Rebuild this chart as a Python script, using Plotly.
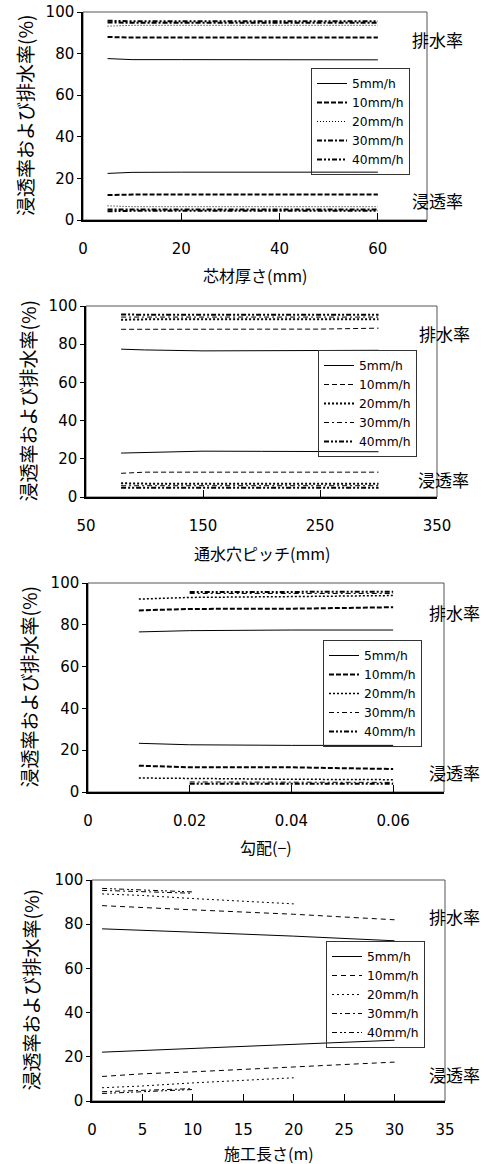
import plotly.graph_objects as go

W, H = 486, 1164

series_names = ["5mm/h", "10mm/h", "20mm/h", "30mm/h", "40mm/h"]

# Panel 1: 芯材厚さ(mm)
p1_x = [5, 10, 20, 40, 60]
p1_drain = {
    "5mm/h": [77.6, 77.1, 77.1, 77.0, 77.0],
    "10mm/h": [88.0, 87.7, 87.7, 87.7, 87.7],
    "20mm/h": [93.2, 93.6, 93.6, 93.6, 93.6],
    "30mm/h": [95.0, 94.8, 94.8, 94.8, 94.8],
    "40mm/h": [95.8, 95.5, 95.5, 95.5, 95.5],
}
p1_infil = {
    "5mm/h": [22.4, 22.9, 23.0, 23.0, 23.0],
    "10mm/h": [12.0, 12.2, 12.2, 12.2, 12.2],
    "20mm/h": [6.8, 6.4, 6.4, 6.4, 6.4],
    "30mm/h": [5.0, 5.0, 5.0, 5.0, 5.0],
    "40mm/h": [4.2, 4.4, 4.4, 4.4, 4.4],
}

# Panel 2: 通水穴ピッチ(mm)
p2_x = [80, 100, 150, 200, 250, 300]
p2_drain = {
    "5mm/h": [77.4, 77.0, 76.5, 76.6, 76.7, 76.8],
    "10mm/h": [87.8, 87.8, 87.8, 87.8, 87.9, 88.4],
    "20mm/h": [92.8, 93.0, 93.0, 93.0, 93.0, 93.0],
    "30mm/h": [94.2, 94.2, 94.2, 94.2, 94.2, 94.2],
    "40mm/h": [95.5, 95.4, 95.4, 95.4, 95.4, 95.4],
}
p2_infil = {
    "5mm/h": [23.0, 23.4, 24.0, 23.9, 23.8, 23.7],
    "10mm/h": [12.4, 13.0, 13.0, 13.0, 13.0, 13.0],
    "20mm/h": [7.2, 7.0, 7.0, 7.0, 7.0, 7.0],
    "30mm/h": [5.9, 5.9, 5.9, 5.9, 5.9, 5.9],
    "40mm/h": [4.9, 4.9, 4.9, 4.9, 4.9, 4.9],
}

# Panel 3: 勾配(-)
p3_x_low = [0.01, 0.02, 0.04, 0.06]
p3_x_high = [0.02, 0.04, 0.06]
p3_drain = {
    "5mm/h": [76.6, 77.2, 77.5, 77.5],
    "10mm/h": [86.9, 87.6, 87.7, 88.4],
    "20mm/h": [92.3, 93.1, 93.5, 94.0],
    "30mm/h": [95.0, 95.0, 95.0],
    "40mm/h": [95.7, 95.8, 95.8],
}
p3_infil = {
    "5mm/h": [23.3, 22.6, 22.3, 22.3],
    "10mm/h": [12.6, 11.8, 11.8, 11.0],
    "20mm/h": [6.7, 6.4, 6.1, 5.9],
    "30mm/h": [4.8, 4.6, 4.6],
    "40mm/h": [4.0, 3.9, 3.9],
}

# Panel 4: 施工長さ(m)
p4_x_long = [1, 5, 10, 20, 30]
p4_x_mid = [1, 5, 10, 20]
p4_x_short = [1, 5, 10]
p4_drain = {
    "5mm/h": [77.9, 77.3, 76.4, 74.6, 72.5],
    "10mm/h": [88.4, 87.5, 86.5, 84.5, 82.0],
    "20mm/h": [93.7, 93.0, 91.6, 89.2],
    "30mm/h": [95.3, 94.8, 94.0],
    "40mm/h": [96.2, 95.6, 94.6],
}
p4_infil = {
    "5mm/h": [22.1, 22.8, 23.8, 25.6, 27.5],
    "10mm/h": [11.1, 12.3, 13.2, 15.3, 17.6],
    "20mm/h": [6.0, 6.8, 8.2, 10.5],
    "30mm/h": [4.2, 4.7, 5.6],
    "40mm/h": [3.4, 4.3, 5.2],
}

x_titles = ["芯材厚さ(mm)", "通水穴ピッチ(mm)", "勾配(−)", "施工長さ(m)"]
y_title = "浸透率および排水率(%)"
drain_label = "排水率"
infil_label = "浸透率"

# ---- layout geometry (pixels) ----
panels = [
    dict(l=83, r=427, t=12, b=220, xr=[0, 70], tick0=0, dtick=20,
         leg=(311, 68), xt_y=275, yt_x=25, drain_pos=(437, 40), infil_pos=(437, 200)),
    dict(l=86, r=437, t=306, b=497, xr=[50, 350], tick0=50, dtick=100,
         leg=(318, 350), xt_y=553, yt_x=27, drain_pos=(444, 333), infil_pos=(443, 479)),
    dict(l=88, r=444, t=583, b=792, xr=[0, 0.07], tick0=0, dtick=0.02,
         leg=(323, 640), xt_y=847, yt_x=28, drain_pos=(454, 612), infil_pos=(454, 772)),
    dict(l=92, r=445, t=880, b=1101, xr=[0, 35], tick0=0, dtick=5,
         leg=(326, 941), xt_y=1153, yt_x=30, drain_pos=(454, 916), infil_pos=(454, 1074)),
]

styles = [
    {"5mm/h": ("solid", 1), "10mm/h": ("5px,2px", 2), "20mm/h": ("1px,2px", 1),
     "30mm/h": ("5px,2px,2px,2px", 2), "40mm/h": ("5px,2px,2px,2px,2px,2px", 2)},
    {"5mm/h": ("solid", 1), "10mm/h": ("5px,3px", 1), "20mm/h": ("2px,2px", 2),
     "30mm/h": ("5px,3px,2px,3px", 1), "40mm/h": ("5px,2px,2px,2px,2px,2px", 2)},
    {"5mm/h": ("solid", 1), "10mm/h": ("5px,2px", 2), "20mm/h": ("2px,2px", 1.5),
     "30mm/h": ("5px,3px,2px,3px", 1), "40mm/h": ("5px,2px,2px,2px,2px,2px", 2)},
    {"5mm/h": ("solid", 1), "10mm/h": ("5px,4px", 1), "20mm/h": ("2px,3px", 1),
     "30mm/h": ("5px,3px,2px,3px", 1), "40mm/h": ("5px,3px,2px,2px,2px,3px", 1)},
]

panel_data = [
    ({k: p1_x for k in series_names}, p1_drain, p1_infil),
    ({k: p2_x for k in series_names}, p2_drain, p2_infil),
    ({"5mm/h": p3_x_low, "10mm/h": p3_x_low, "20mm/h": p3_x_low,
      "30mm/h": p3_x_high, "40mm/h": p3_x_high}, p3_drain, p3_infil),
    ({"5mm/h": p4_x_long, "10mm/h": p4_x_long, "20mm/h": p4_x_mid,
      "30mm/h": p4_x_short, "40mm/h": p4_x_short}, p4_drain, p4_infil),
]

def px(x):
    return x / W

def py(y):
    return 1 - y / H

NUM_FONT = "DejaVu Sans"
JP_FONT = "Noto Sans CJK JP"

fig = go.Figure()
layout = dict(
    width=W, height=H, margin=dict(l=0, r=0, t=0, b=0, pad=0, autoexpand=False),
    paper_bgcolor="white", plot_bgcolor="white", showlegend=True,
    annotations=[], shapes=[],
)

for i, (p, (xs, drain, infil)) in enumerate(zip(panels, panel_data)):
    n = i + 1
    xa = "x" if n == 1 else f"x{n}"
    ya = "y" if n == 1 else f"y{n}"
    leg = "legend" if n == 1 else f"legend{n}"
    for name in series_names:
        dash, w = styles[i][name]
        line = dict(color="black", width=w, dash=dash)
        fig.add_trace(go.Scatter(x=xs[name], y=drain[name], mode="lines", name=name,
                                 line=line, xaxis=xa, yaxis=ya, legend=leg, showlegend=True))
        fig.add_trace(go.Scatter(x=xs[name], y=infil[name], mode="lines", name=name,
                                 line=line, xaxis=xa, yaxis=ya, legend=leg, showlegend=False))
    xkey = "xaxis" if n == 1 else f"xaxis{n}"
    ykey = "yaxis" if n == 1 else f"yaxis{n}"
    layout[xkey] = dict(
        domain=[px(p["l"]), px(p["r"])], anchor=ya, range=p["xr"], automargin=False,
        tick0=p["tick0"], dtick=p["dtick"], showgrid=False, zeroline=False,
        showline=True, linecolor="black", linewidth=1.5,
        ticks="inside", ticklen=7, tickcolor="black", tickwidth=1,
        ticklabelstandoff=14,
        tickfont=dict(family=NUM_FONT, size=15, color="black"),
    )
    layout[ykey] = dict(
        domain=[py(p["b"]), py(p["t"])], anchor=xa, range=[0, 100], automargin=False,
        tick0=0, dtick=20, showgrid=False, zeroline=False,
        showline=True, linecolor="black", linewidth=1.5,
        ticks="outside", ticklen=4, tickcolor="black", tickwidth=1,
        tickfont=dict(family=NUM_FONT, size=15, color="black"),
    )
    layout["shapes"].append(dict(
        type="rect", xref="paper", yref="paper",
        x0=px(p["l"]), x1=px(p["r"]), y0=py(p["b"]), y1=py(p["t"]),
        line=dict(color="#555555", width=1), fillcolor="rgba(0,0,0,0)", layer="below",
    ))
    layout[leg] = dict(
        x=px(p["leg"][0]), y=py(p["leg"][1]), xanchor="left", yanchor="top",
        bgcolor="rgba(255,255,255,0)", bordercolor="#333333", borderwidth=1,
        font=dict(family=NUM_FONT, size=12.3, color="black"),
        tracegroupgap=0, itemwidth=30,
    )
    cx = (p["l"] + p["r"]) / 2
    layout["annotations"].append(dict(
        text=x_titles[i], xref="paper", yref="paper", x=px(cx), y=py(p["xt_y"]),
        xanchor="center", yanchor="middle", showarrow=False,
        font=dict(family=JP_FONT, size=16, color="black"),
    ))
    cy = (p["t"] + p["b"]) / 2
    layout["annotations"].append(dict(
        text=y_title, xref="paper", yref="paper", x=px(p["yt_x"]), y=py(cy),
        xanchor="center", yanchor="middle", showarrow=False, textangle=-90,
        font=dict(family=JP_FONT, size=19, color="black"),
    ))
    for label, pos in ((drain_label, p["drain_pos"]), (infil_label, p["infil_pos"])):
        layout["annotations"].append(dict(
            text=label, xref="paper", yref="paper", x=px(pos[0]), y=py(pos[1]),
            xanchor="center", yanchor="middle", showarrow=False,
            font=dict(family=JP_FONT, size=17, color="black"),
        ))

fig.update_layout(**layout)
fig.write_html(
    "out.html",
    config={"displayModeBar": False},
    post_script="document.body.style.margin='0';document.body.style.overflow='hidden';",
)
